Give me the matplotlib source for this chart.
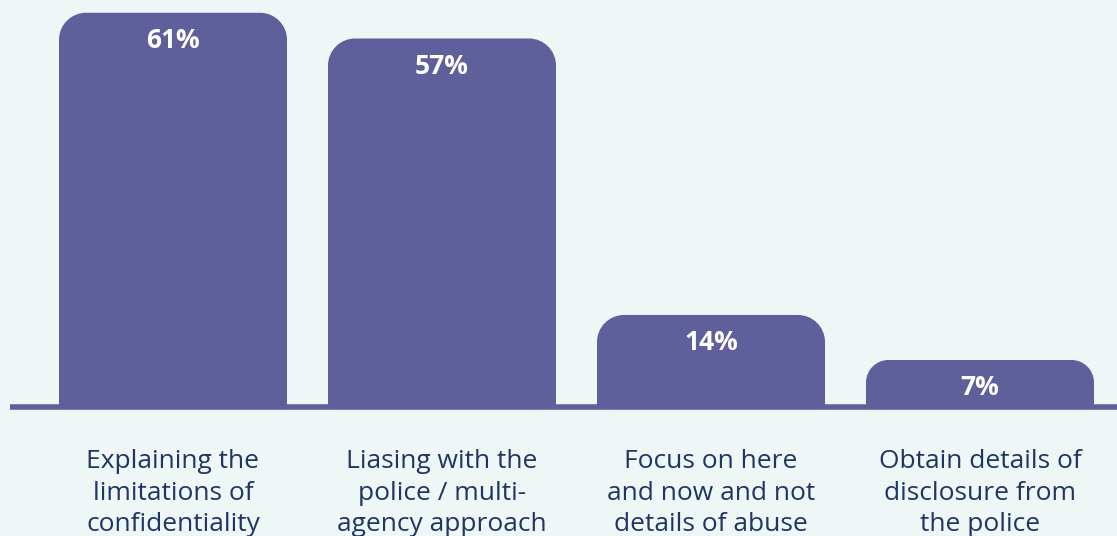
import matplotlib
matplotlib.use("Agg")
import matplotlib.pyplot as plt
from matplotlib.path import Path
from matplotlib.patches import PathPatch

plt.rcParams['font.family'] = ['Open Sans', 'DejaVu Sans']

categories = [
    "Explaining the\nlimitations of\nconfidentiality",
    "Liasing with the\npolice / multi-\nagency approach",
    "Focus on here\nand now and not\ndetails of abuse",
    "Obtain details of\ndisclosure from\nthe police",
]
values = [61, 57, 14, 7]

BG = "#eef7f5"
BAR = "#5f5f9b"
TEXT = "#1f3563"

W, H, DPI = 1117, 536, 100
PX_X = 269.0      # pixels per category
PX_Y = 6.43       # pixels per percent
BASE_PX = 405     # baseline row in pixels
FIRST_PX = 173    # centre of first bar in pixels


def rounded_bar(x, width, height, r_px):
    # rectangle with rounded top corners; radius given in pixels
    r = min(r_px, height * PX_Y / 2)
    rx, ry = r / PX_X, r / PX_Y
    k = 0.5523
    x0, x1 = x - width / 2, x + width / 2
    verts = [
        (x0, 0), (x0, height - ry),
        (x0, height - ry + k * ry), (x0 + rx - k * rx, height), (x0 + rx, height),
        (x1 - rx, height),
        (x1 - rx + k * rx, height), (x1, height - ry + k * ry), (x1, height - ry),
        (x1, 0), (x0, 0),
    ]
    codes = [Path.MOVETO, Path.LINETO,
             Path.CURVE4, Path.CURVE4, Path.CURVE4,
             Path.LINETO,
             Path.CURVE4, Path.CURVE4, Path.CURVE4,
             Path.LINETO, Path.CLOSEPOLY]
    return PathPatch(Path(verts, codes), facecolor=BAR, edgecolor='none', zorder=2)


fig = plt.figure(figsize=(W / DPI, H / DPI), dpi=DPI, facecolor=BG)
ax = fig.add_axes([0, 0, 1, 1])
ax.set_facecolor(BG)
ax.set_xlim(-FIRST_PX / PX_X, (W - FIRST_PX) / PX_X)
ax.set_ylim(-(H - BASE_PX) / PX_Y, BASE_PX / PX_Y)
ax.axis('off')

bar_w = 228 / PX_X
for i, (label, v) in enumerate(zip(categories, values)):
    ax.add_patch(rounded_bar(i, bar_w, v, 27))
    ax.annotate(f"{v}%", xy=(i, v), xytext=(0, -20), textcoords='offset points',
                ha='center', va='center', color='white', fontsize=19,
                fontweight='bold', zorder=3)
    ax.annotate(label, xy=(i, 0), xytext=(0, -32), textcoords='offset points',
                ha='center', va='top', color=TEXT, fontsize=19,
                linespacing=1.32, zorder=3)

# baseline
ax.axhline(-0.35, xmin=10 / W, xmax=1, color=BAR, linewidth=4, zorder=3,
           solid_capstyle='butt')

fig.savefig("out.png", dpi=DPI, facecolor=BG)
